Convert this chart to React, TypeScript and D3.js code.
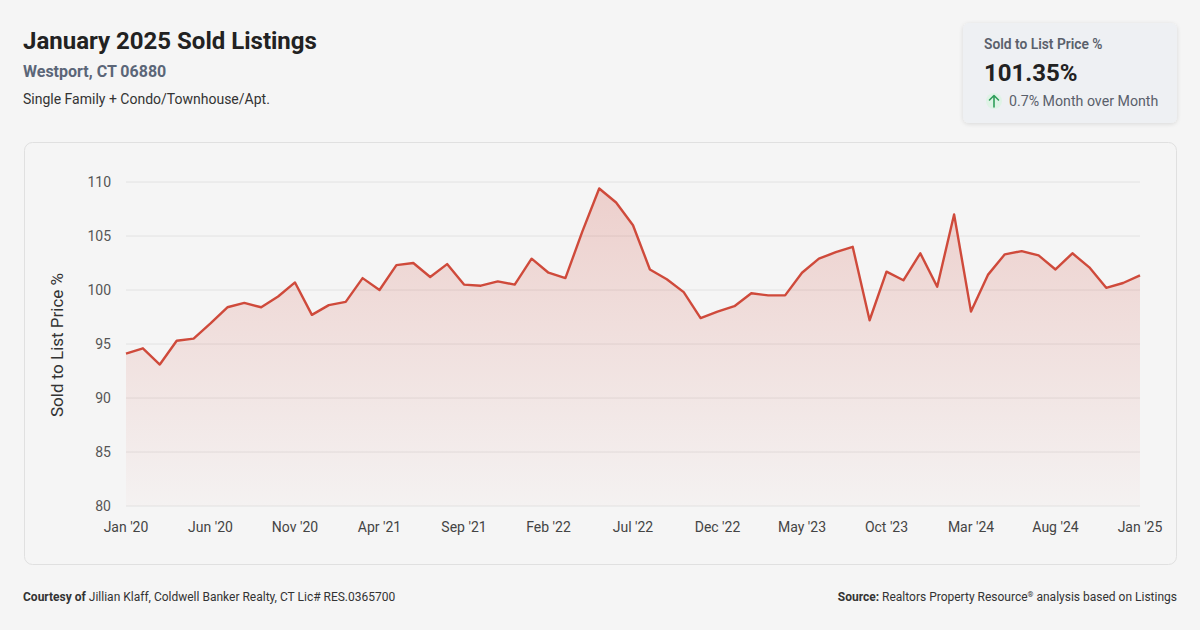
import React from "react";
import * as d3 from "d3";

const months: string[] = (() => {
  const names = ["Jan","Feb","Mar","Apr","May","Jun","Jul","Aug","Sep","Oct","Nov","Dec"];
  const out: string[] = [];
  for (let y = 2020; y <= 2025; y++) {
    for (let m = 0; m < 12; m++) {
      if (y === 2025 && m > 0) break;
      out.push(`${names[m]} '${String(y).slice(2)}`);
    }
  }
  return out;
})();

const values: number[] = [
  94.1, 94.6, 93.1, 95.3, 95.5, 96.9, 98.4, 98.8, 98.4, 99.4, 100.7, 97.7,
  98.6, 98.9, 101.1, 100.0, 102.3, 102.5, 101.2, 102.4, 100.5, 100.4, 100.8, 100.5,
  102.9, 101.6, 101.1, 105.4, 109.4, 108.1, 106.0, 101.9, 101.0, 99.8, 97.4, 98.0,
  98.5, 99.7, 99.5, 99.5, 101.6, 102.9, 103.5, 104.0, 97.2, 101.7, 100.9, 103.4,
  100.3, 107.0, 98.0, 101.4, 103.3, 103.6, 103.2, 101.9, 103.4, 102.1, 100.2, 100.65,
  101.35,
];

const yTicks: number[] = [80, 85, 90, 95, 100, 105, 110];
const xTickIdx: number[] = [0, 5, 10, 15, 20, 25, 30, 35, 40, 45, 50, 55, 60];

const FONT = "Roboto, 'Noto Sans', sans-serif";
const LINE = "#cf4a3b";

export default function App() {
  const W = 1200, H = 630;
  const x = d3.scaleLinear().domain([0, months.length - 1]).range([126, 1140]);
  const y = d3.scaleLinear().domain([80, 110]).range([506, 182]);
  const line = d3.line<number>().x((_, i) => x(i)).y((d) => y(d));
  const area = d3.area<number>().x((_, i) => x(i)).y0(y(80)).y1((d) => y(d));

  return (
    <svg width={W} height={H} style={{ position: "absolute", left: 0, top: 0, display: "block" }} fontFamily={FONT}>
      <defs>
        <linearGradient id="fillG" x1="0" y1="0" x2="0" y2="1" gradientUnits="objectBoundingBox">
          <stop offset="0%" stopColor={LINE} stopOpacity={0.22} />
          <stop offset="100%" stopColor={LINE} stopOpacity={0.02} />
        </linearGradient>
        <filter id="sh" x="-10%" y="-10%" width="120%" height="130%">
          <feDropShadow dx="0" dy="1" stdDeviation="2" floodColor="#000" floodOpacity="0.12" />
        </filter>
      </defs>
      <rect x={0} y={0} width={W} height={H} fill="#f5f5f5" />

      {/* header */}
      <text x={23} y={49} fontSize={24} fontWeight={700} fill="#222">January 2025 Sold Listings</text>
      <text x={23} y={77} fontSize={16} fontWeight={700} fill="#5b6678">Westport, CT 06880</text>
      <text x={23} y={104} fontSize={14} fill="#333">Single Family + Condo/Townhouse/Apt.</text>

      {/* KPI box */}
      <rect x={963} y={23} width={214} height={100} rx={6} fill="#eef0f3" filter="url(#sh)" />
      <text x={984} y={49} fontSize={13.8} fontWeight={600} fill="#5a606b">Sold to List Price %</text>
      <text x={984} y={81} fontSize={24} fontWeight={700} fill="#222">101.35%</text>
      <circle cx={994} cy={101} r={8} fill="#dff3e6" />
      <path d="M994,107 L994,95.5 M989.5,100 L994,95.5 L998.5,100" stroke="#2f9e5b" strokeWidth={1.6} fill="none" strokeLinecap="round" strokeLinejoin="round" />
      <text x={1009} y={106} fontSize={14.2} fill="#5a606b">0.7% Month over Month</text>

      {/* chart panel */}
      <rect x={24.5} y={142.5} width={1152} height={422} rx={8} fill="#f5f5f5" stroke="#e0e0e0" />

      {yTicks.map((t) => (
        <g key={t}>
          <line x1={126} x2={1140} y1={y(t)} y2={y(t)} stroke="#e2e2e2" strokeWidth={1} />
          <text x={111} y={y(t)} dy="0.35em" textAnchor="end" fontSize={14} fill="#555">{t}</text>
        </g>
      ))}

      <path d={area(values) || ""} fill="url(#fillG)" />
      <path d={line(values) || ""} fill="none" stroke={LINE} strokeWidth={2.4} strokeLinejoin="round" />

      {xTickIdx.map((i) => (
        <text key={i} x={x(i)} y={532} textAnchor="middle" fontSize={14} fill="#444">{months[i]}</text>
      ))}

      <text transform={`translate(63,345) rotate(-90)`} textAnchor="middle" fontSize={17} fill="#333">Sold to List Price %</text>

      {/* footer */}
      <text x={23} y={601} fontSize={12} fill="#333">
        <tspan fontWeight={700}>Courtesy of</tspan> Jillian Klaff, Coldwell Banker Realty, CT Lic# RES.0365700
      </text>
      <text x={1177} y={601} fontSize={12} fill="#333" textAnchor="end">
        <tspan fontWeight={700}>Source:</tspan> Realtors Property Resource
        <tspan fontSize={7.5} dy={-4}>®</tspan>
        <tspan dy={4}> analysis based on Listings</tspan>
      </text>
    </svg>
  );
}
